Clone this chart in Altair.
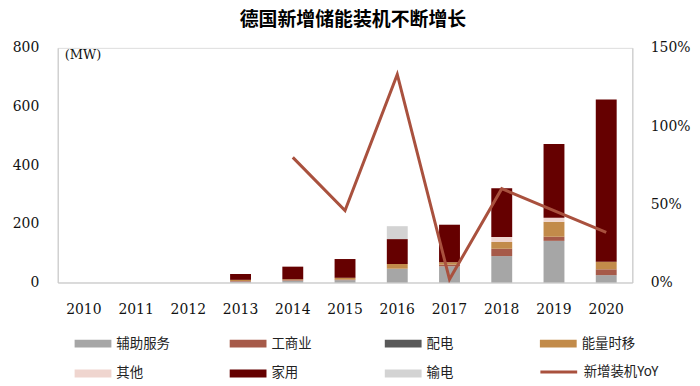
import altair as alt
import pandas as pd

# ---- data (MW) ----
years = ["2010", "2011", "2012", "2013", "2014", "2015", "2016", "2017", "2018", "2019", "2020"]
series_names = ["辅助服务", "工商业", "配电", "能量时移", "其他", "家用", "输电"]
aux = [0, 0, 0, 3, 6, 8, 47, 55, 90, 142, 25]
commercial = [0, 0, 0, 2, 2, 2, 0, 6, 25, 14, 20]
distribution = [0, 0, 0, 0, 0, 0, 0, 0, 0, 0, 0]
energy_shift = [0, 0, 0, 4, 3, 6, 16, 8, 23, 51, 26]
other = [0, 0, 0, 0, 0, 0, 0, 0, 17, 14, 0]
home = [0, 0, 0, 20, 43, 64, 85, 128, 166, 251, 553]
transmission = [0, 0, 0, 0, 0, 0, 44, 0, 0, 0, 0]

yoy_name = "新增装机YoY"
yoy_years = ["2014", "2015", "2016", "2017", "2018", "2019", "2020"]
yoy = [0.80, 0.46, 1.33, 0.02, 0.60, 0.46, 0.32]

unit_label = "(MW)"
title_text = "德国新增储能装机不断增长"

bar_colors = ["#a6a6a6", "#a65a49", "#595959", "#c28b4a", "#efd5cf", "#650000", "#d3d3d3"]
line_color = "#a9513e"

# ---- tables ----
series_values = [aux, commercial, distribution, energy_shift, other, home, transmission]
rows = []
for si, (name, vals) in enumerate(zip(series_names, series_values)):
    for y, v in zip(years, vals):
        rows.append({"year": y, "series": name, "value": v, "order": si})
bars_df = pd.DataFrame(rows)
line_df = pd.DataFrame({"year": yoy_years, "yoy": yoy, "line": [yoy_name] * len(yoy)})
unit_df = pd.DataFrame({"t": [unit_label]})

rect_path = "M-1,-0.216L1,-0.216L1,0.216L-1,0.216Z"

label_kw = dict(labelFont="Noto Sans CJK SC", labelFontSize=13.5, labelColor="#222222", labelOffset=5)

bar_legend = alt.Legend(
    title=None, orient="none", legendX=17, legendY=279, columns=4, direction="horizontal",
    symbolType=rect_path, symbolSize=1369, symbolStrokeWidth=0,
    gridAlign="all", columnPadding=60, rowPadding=5, **label_kw,
)
line_legend = alt.Legend(
    title=None, orient="none", legendX=484, legendY=306, direction="horizontal",
    symbolType="stroke", symbolSize=1369, symbolStrokeWidth=3, **label_kw,
)

x_enc = alt.X(
    "year:O",
    sort=years,
    scale=alt.Scale(domain=years, paddingInner=0.6, paddingOuter=0.3),
    axis=alt.Axis(title=None, labelAngle=0, domainColor="#c8c8c8", ticks=False,
                  labelFont="DejaVu Serif", labelFontSize=14, labelColor="#111111", labelPadding=20),
)

bars = alt.Chart(bars_df).mark_bar().encode(
    x=x_enc,
    y=alt.Y("sum(value):Q", scale=alt.Scale(domain=[0, 800]),
            axis=alt.Axis(title=None, orient="left", values=[0, 200, 400, 600, 800], grid=False, ticks=False,
                          domainColor="#c8c8c8", labelFont="DejaVu Serif", labelFontSize=14,
                          labelColor="#111111", labelPadding=19)),
    color=alt.Color("series:N", scale=alt.Scale(domain=series_names, range=bar_colors), legend=bar_legend),
    order=alt.Order("order:Q", sort="ascending"),
)

line = alt.Chart(line_df).mark_line(strokeWidth=3).encode(
    x=alt.X("year:O", sort=years),
    y=alt.Y("yoy:Q", scale=alt.Scale(domain=[0, 1.5]),
            axis=alt.Axis(title=None, orient="right", values=[0, 0.5, 1.0, 1.5], format=".0%", grid=False,
                          ticks=False, domainColor="#c8c8c8", labelFont="DejaVu Serif", labelFontSize=14,
                          labelColor="#111111", labelPadding=18)),
    stroke=alt.Stroke("line:N", scale=alt.Scale(domain=[yoy_name], range=[line_color]), legend=line_legend),
)

unit = alt.Chart(unit_df).mark_text(align="left", baseline="middle", font="DejaVu Serif",
                                    fontSize=13, color="#111111").encode(
    x=alt.value(7), y=alt.value(7), text="t:N"
)

chart = alt.layer(bars, line, unit).resolve_scale(y="independent").properties(
    width=578,
    height=236,
    autosize=alt.AutoSizeParams(type="none"),
    padding={"left": 50, "top": 39, "right": 60, "bottom": 100},
    title=alt.TitleParams(title_text, font="Noto Sans CJK SC", fontSize=19, fontWeight="bold",
                          color="#000000", anchor="middle", offset=11, dx=8),
).configure_view(stroke=None).configure(background="white")

chart.save("out.html", embed_options={"renderer": "svg", "actions": False})
